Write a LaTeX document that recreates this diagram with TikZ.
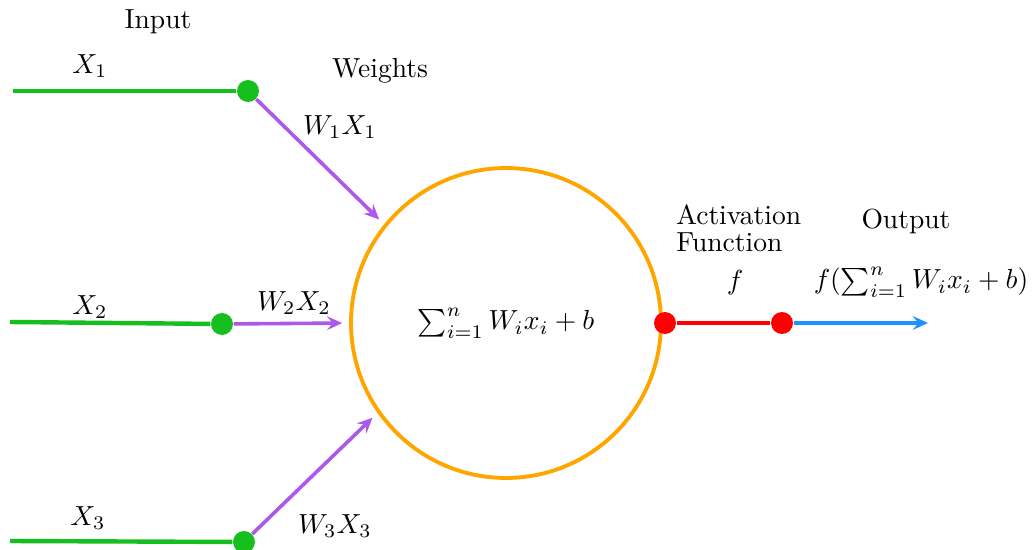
\documentclass[tikz,border=0pt]{standalone}
\usepackage{amsmath}
\usepackage{xcolor}
\usetikzlibrary{arrows.meta}
\definecolor{inwire}{RGB}{22,190,30}
\definecolor{wtcol}{RGB}{172,88,232}
\definecolor{sumcol}{RGB}{255,165,0}
\definecolor{actcol}{RGB}{255,0,0}
\definecolor{outcol}{RGB}{30,144,255}

\begin{document}
\begin{tikzpicture}[x=0.01274cm, y=-0.01274cm,
  dot/.style={circle, inner sep=0pt, minimum size=0.28cm},
  wire/.style={line width=1.6pt, draw=inwire},
  wt/.style={-{Stealth[length=5.5pt, width=5pt, inset=2pt]}, line width=1.3pt, draw=wtcol, shorten >=2.5pt},
  lbl/.style={inner sep=1pt},
]
  \useasboundingbox (0,0) rectangle (1036,550);

  % start of the input wires
  \coordinate (a1) at (13,91);
  \coordinate (a2) at (10,322);
  \coordinate (a3) at (10,541);
  \coordinate (out) at (928,323);

  \node[dot, fill=inwire] (d1) at (248,91) {};
  \node[dot, fill=inwire] (d2) at (222,324) {};
  \node[dot, fill=inwire] (d3) at (244,542) {};

  \node[circle, draw=sumcol, line width=1.4pt, minimum size=3.949cm, inner sep=0pt] (sum) at (506,323)
        {$\sum_{i=1}^{n} W_i x_i + b$};

  \node[dot, fill=actcol] (r1) at (665,323) {};
  \node[dot, fill=actcol] (r2) at (782,323) {};

  \draw[wire] (a1) -- (d1);
  \draw[wire] (a2) -- (d2);
  \draw[wire] (a3) -- (d3);

  \draw[wt] (d1) -- (sum.141);
  \draw[wt] (d2) -- (sum.west);
  \draw[wt] (d3) -- (sum.215);

  \draw[line width=1.6pt, draw=actcol] (r1) -- (r2);
  \draw[-{Stealth[length=5.5pt, width=5pt, inset=2pt]}, line width=1.5pt, draw=outcol] (r2) -- (out);

  % labels
  \node[lbl] (tin) at (158,22) {Input};
  \node[lbl] (tx1) at (90,66) {$X_1$};
  \node[lbl] (tx2) at (90,307) {$X_2$};
  \node[lbl] (tx3) at (88,518) {$X_3$};
  \node[lbl] (twt) at (380,71) {Weights};
  \node[lbl] (tw1) at (340,127) {$W_1X_1$};
  \node[lbl] (tw2) at (294,303) {$W_2X_2$};
  \node[lbl] (tw3) at (335,526) {$W_3X_3$};
  \node[lbl, anchor=west, align=left] (tact) at (673,228) {Activation\\[-2.2pt]Function};
  \node[lbl] (tf) at (735,283) {$f$};
  \node[lbl] (tout) at (906,221) {Output};
  \node[lbl] (tfx) at (921,282) {$f(\sum_{i=1}^{n} W_i x_i + b)$};
\end{tikzpicture}
\end{document}
